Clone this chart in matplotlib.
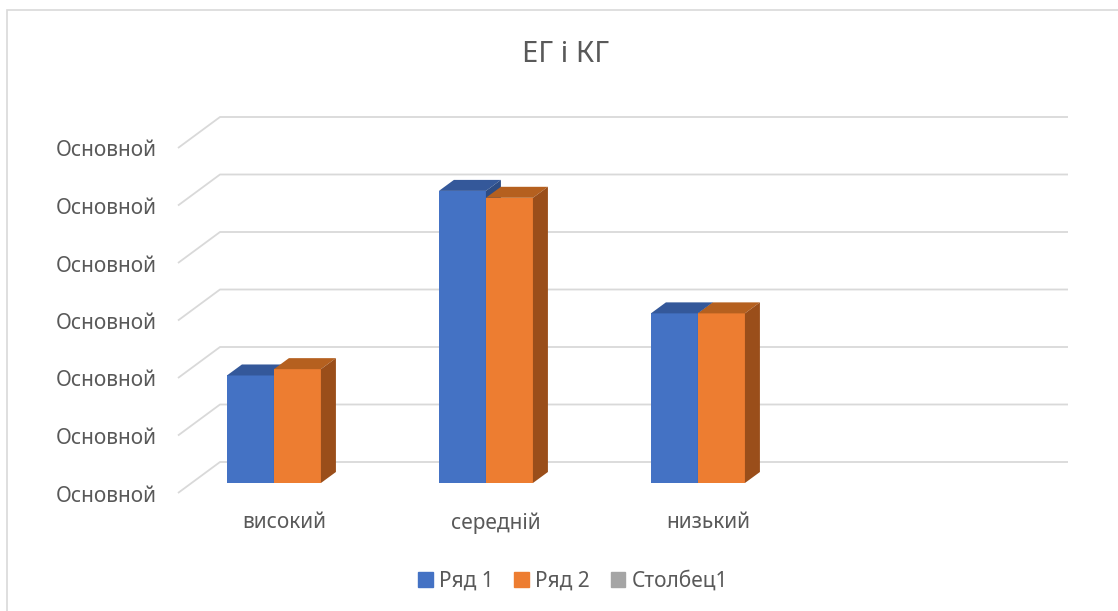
import matplotlib.pyplot as plt
from matplotlib.patches import Polygon, Patch, Rectangle
import numpy as np

plt.rcParams['font.family'] = ['Noto Sans', 'DejaVu Sans']

# data
categories = ['високий', 'середній', 'низький', '']
ryad1 = [1.87, 5.08, 2.95]
ryad2 = [1.98, 4.96, 2.95]
y_ticks = [0, 1, 2, 3, 4, 5, 6]
y_labels = ['Основной'] * 7
series = {
    'Ряд 1': {'values': ryad1, 'front': '#4472c4', 'top': '#34589a', 'side': '#2d4c84'},
    'Ряд 2': {'values': ryad2, 'front': '#ed7d31', 'top': '#b5601f', 'side': '#9a4e1a'},
}
empty_series = {'Столбец1': '#a5a5a5'}

TEXT = '#595959'
GRID = '#d9d9d9'
W, H = 1118, 611

fig = plt.figure(figsize=(W / 100, H / 100), dpi=100)
# plot area (front plane of the bars)
ax = fig.add_axes([190.6 / W, (H - 483) / H, 848 / W, 345 / H])
ax.set_xlim(-0.393, 3.607)
ax.set_ylim(0, 6)
ax.axis('off')

# pixel -> data unit conversion
px_x = 848 / 4.0
px_y = 345 / 6.0
def off(dx, dy):
    return dx / px_x, dy / px_y

# floor depth: front edge and back wall offsets from bar plane (pixels)
front_dx, front_dy = -12.6, -10
back_dx, back_dy = 29.4, 21
bar_dx, bar_dy = 15, 11

x0, x1 = ax.get_xlim()
for v in y_ticks:
    fx, fy = off(front_dx, front_dy)
    bx, by = off(back_dx, back_dy)
    ax.plot([x0 + fx, x0 + bx, x1 + bx], [v + fy, v + by, v + by],
            color=GRID, lw=1.3, zorder=1, clip_on=False, solid_capstyle='butt')

for v, lab in zip(y_ticks, y_labels):
    ax.annotate(lab, xy=(x0, v), xytext=((front_dx - 21) * 0.72, (front_dy - 3) * 0.72),
                textcoords='offset points', ha='right', va='center',
                fontsize=15, color=TEXT, annotation_clip=False)

for i, c in enumerate(categories):
    ax.annotate(c, xy=(i + 0.107, 0), xytext=(front_dx * 0.72, (front_dy - 30) * 0.72),
                textcoords='offset points', ha='center', va='center',
                fontsize=15, color=TEXT, annotation_clip=False)

# bars
width = 0.2217
ddx, ddy = off(bar_dx, bar_dy)
for j, (name, s) in enumerate(series.items()):
    xs = np.arange(len(s['values'])) + (j - 1) * width
    ax.bar(xs, s['values'], width=width, align='edge', color=s['front'], zorder=3 + j, lw=0)
    for x, v in zip(xs, s['values']):
        top = [(x, v), (x + width, v), (x + width + ddx, v + ddy), (x + ddx, v + ddy)]
        side = [(x + width, 0), (x + width + ddx, ddy), (x + width + ddx, v + ddy), (x + width, v)]
        ax.add_patch(Polygon(top, closed=True, fc=s['top'], lw=0, zorder=3 + j))
        ax.add_patch(Polygon(side, closed=True, fc=s['side'], lw=0, zorder=3 + j))

fig.suptitle('ЕГ і КГ', x=566 / W, y=1 - 55 / H, va='center', fontsize=21, color=TEXT)

handles = [Patch(color=s['front'], label=n) for n, s in series.items()]
handles += [Patch(color=c, label=n) for n, c in empty_series.items()]
fig.legend(handles=handles, loc='center', bbox_to_anchor=(573 / W, 1 - 581 / H), ncol=3,
           frameon=False, fontsize=15, labelcolor=TEXT, handlelength=0.7, handleheight=0.7,
           handletextpad=0.3, columnspacing=1.0)

fig.patches.append(Rectangle((7 / W, -0.05), 1.05, 1 - 10 / H + 0.05, transform=fig.transFigure,
                             fill=False, ec=GRID, lw=1.2))

fig.savefig('out.png', dpi=100)
